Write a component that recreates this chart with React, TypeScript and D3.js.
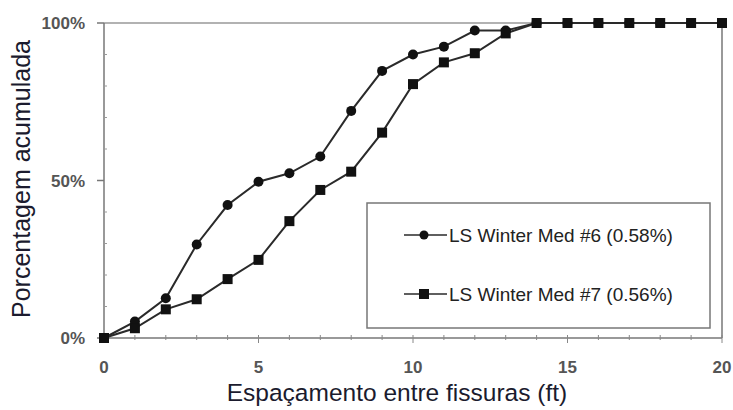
import React from "react";
import * as d3 from "d3";

const xValues = [0, 1, 2, 3, 4, 5, 6, 7, 8, 9, 10, 11, 12, 13, 14, 15, 16, 17, 18, 19, 20];
const med6 = [0, 5.2, 12.6, 29.7, 42.2, 49.6, 52.3, 57.6, 72.1, 84.8, 90, 92.5, 97.6, 97.6, 100, 100, 100, 100, 100, 100, 100];
const med7 = [0, 3.1, 9.1, 12.3, 18.7, 24.8, 37.1, 47, 52.8, 65.2, 80.6, 87.5, 90.4, 96.7, 100, 100, 100, 100, 100, 100, 100];
const med6Label = "LS Winter Med #6 (0.58%)";
const med7Label = "LS Winter Med #7 (0.56%)";
const xTicks = [0, 5, 10, 15, 20];
const yTicks = [0, 50, 100];
const yMinor = [10, 20, 30, 40, 60, 70, 80, 90];
const xLabel = "Espaçamento entre fissuras (ft)";
const yLabel = "Porcentagem acumulada";

export default function App() {
  const W = 733, H = 410;
  const x = d3.scaleLinear().domain([0, 20]).range([104, 722]);
  const y = d3.scaleLinear().domain([0, 100]).range([338, 23]);
  const line = d3.line<number>().x((_, i) => x(xValues[i])).y((d) => y(d));
  const font = "'Liberation Sans', Arial, sans-serif";
  const lineColor = "#2a2a2a";
  const sq = 10;
  return (
    <svg width={W} height={H} style={{ position: "absolute", left: 0, top: 0, background: "#fff" }} fontFamily={font}>
      {/* frame */}
      <line x1={x(0)} x2={x(20)} y1={y(100)} y2={y(100)} stroke="#999" strokeWidth={1.5} />
      <line x1={x(20)} x2={x(20)} y1={y(100)} y2={y(0)} stroke="#777" strokeWidth={1.5} />
      <line x1={x(0)} x2={x(0)} y1={y(100)} y2={y(0)} stroke="#777" strokeWidth={1.5} />
      <line x1={x(0)} x2={x(20)} y1={y(0)} y2={y(0)} stroke="#777" strokeWidth={1.5} />
      {/* y ticks */}
      {yTicks.map((t) => (
        <g key={"yt" + t}>
          <line x1={x(0) - 7} x2={x(0)} y1={y(t)} y2={y(t)} stroke="#777" strokeWidth={1.5} />
          <text x={85} y={y(t)} dy="0.36em" textAnchor="end" fontSize={17} fill="#555" fontWeight="bold">{t}%</text>
        </g>
      ))}
      {yMinor.map((t) => (
        <line key={"ym" + t} x1={x(0)} x2={x(0) + 3} y1={y(t)} y2={y(t)} stroke="#999" strokeWidth={1} />
      ))}
      {/* x ticks */}
      {xValues.map((t) => (
        <line key={"xm" + t} x1={x(t)} x2={x(t)} y1={y(0) - 3} y2={y(0) + (t % 5 === 0 ? 5 : 2)} stroke="#888" strokeWidth={1} />
      ))}
      {xTicks.map((t) => (
        <text key={"xt" + t} x={x(t)} y={367} dy="0.36em" textAnchor="middle" fontSize={17} fill="#555" fontWeight="bold">{t}</text>
      ))}
      {/* axis labels */}
      <text x={397} y={401} textAnchor="middle" fontSize={24.5} fill="#1b1b2e">{xLabel}</text>
      <text transform={`translate(30,179) rotate(-90)`} textAnchor="middle" fontSize={25} fill="#1b1b2e">{yLabel}</text>
      {/* series */}
      <path d={line(med6) || ""} fill="none" stroke={lineColor} strokeWidth={2} />
      <path d={line(med7) || ""} fill="none" stroke={lineColor} strokeWidth={2} />
      {med6.map((d, i) => (
        <circle key={"c" + i} cx={x(xValues[i])} cy={y(d)} r={5} fill="#111" />
      ))}
      {med7.map((d, i) => (
        <rect key={"s" + i} x={x(xValues[i]) - sq / 2} y={y(d) - sq / 2} width={sq} height={sq} fill="#111" />
      ))}
      {/* legend */}
      <rect x={367} y={203} width={343} height={125} fill="#fff" stroke="#777" strokeWidth={1.5} />
      <line x1={404} x2={447} y1={235} y2={235} stroke={lineColor} strokeWidth={1.5} />
      <circle cx={424} cy={235} r={4.5} fill="#111" />
      <text x={449} y={235} dy="0.36em" fontSize={19} fill="#222">{med6Label}</text>
      <line x1={404} x2={447} y1={294} y2={294} stroke={lineColor} strokeWidth={1.5} />
      <rect x={424 - 5} y={294 - 5} width={10} height={10} fill="#111" />
      <text x={449} y={294} dy="0.36em" fontSize={19} fill="#222">{med7Label}</text>
    </svg>
  );
}
